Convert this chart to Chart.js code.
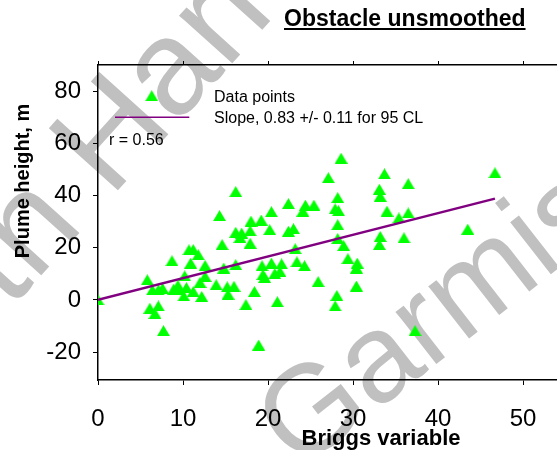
<!DOCTYPE html>
<html><head><meta charset="utf-8">
<script src="https://cdn.jsdelivr.net/npm/chart.js@4/dist/chart.umd.min.js"></script>
<style>
html,body{margin:0;padding:0;overflow:hidden;background:#fff;width:557px;height:450px}
#wrap{position:absolute;left:0;top:0;width:620px;height:450px}
</style>
</head><body><div id="wrap"><canvas id="c" width="620" height="450"></canvas></div>
<script>
// ---- data ----
const briggsX = [0,5.8,6.4,7.1,7.6,6.1,7.1,6.7,7.7,8.7,8.9,9.4,9.6,10.1,10.2,10.4,10.7,11.2,11.8,10.9,
  11.2,12.0,12.6,12.6,12.2,13.9,14.3,14.6,14.8,15.2,15.3,16.0,16.2,22.4,24.4,25.4,24.1,20.4,28.2,27.9,
  28.3,18.0,19.2,28.2,16.2,16.9,17.9,20.2,22.4,23.0,16.7,17.9,23.2,28.2,28.9,16.2,19.3,20.4,21.6,23.4,
  24.3,19.4,19.6,20.8,21.4,29.4,30.5,30.4,25.9,18.4,17.4,21.1,28.1,27.9,30.4,18.9,28.6,27.1,33.7,46.7,
  33.1,36.5,33.2,34.0,35.4,36.5,43.5,33.2,33.1,36.0,37.3];
const plumeY = [0,7.7,3.8,3.8,4.4,-3.2,-2.3,-5.2,-11.8,15.0,4.1,5.6,3.8,1.5,9.2,4.7,19.2,19.3,17.3,14.1,
  3.2,6.7,13.2,9.0,1.3,5.8,32.3,21.2,12.2,5.0,2.2,5.2,41.5,36.9,36.3,36.3,34.0,33.8,39.2,34.9,
  34.2,30.2,30.6,28.8,25.9,25.6,26.5,26.9,26.3,27.3,23.9,21.7,19.6,23.5,20.8,13.5,13.1,14.1,13.8,14.6,
  13.1,9.7,8.6,10.1,10.9,15.8,14.1,12.2,7.0,3.2,-1.8,-0.7,1.7,-2.3,5.3,-17.3,54.3,46.8,48.3,48.7,
  42.4,44.5,39.7,34.0,31.4,33.3,27.1,24.3,21.2,23.8,-11.8];
const fitX = [0, 46.7];
const fitY = [0, 38.8];
const xTicks = [0,10,20,30,40,50,60];
const yTicks = [-20,0,20,40,60,80];
const titleText = 'Obstacle unsmoothed';
const xTitle = 'Briggs variable';
const yTitle = 'Plume height, m';
const legendPoints = 'Data points';
const legendLine = 'Slope, 0.83 +/- 0.11 for 95 CL';
const rText = 'r = 0.56';

const FONT = '"Liberation Sans", Arial, sans-serif';
const GREEN = '#00ff00';
const PURPLE = '#800080';

// triangle marker (centred on its vertical midpoint)
const tri = document.createElement('canvas');
tri.width = 13; tri.height = 11;
(function(){const t = tri.getContext('2d'); t.fillStyle = GREEN; t.beginPath();
  t.moveTo(6.5,0); t.lineTo(13,11); t.lineTo(0,11); t.closePath(); t.fill();})();

const pts = briggsX.map((x,i)=>({x:x, y:plumeY[i]}));
const fit = fitX.map((x,i)=>({x:x, y:fitY[i]}));

const watermark = {
  id:'watermark',
  beforeDraw(chart){
    const ctx = chart.ctx;
    ctx.save();
    ctx.fillStyle = '#fff'; ctx.fillRect(0,0,chart.width,chart.height);
    ctx.fillStyle = 'rgb(192,192,192)';
    ctx.textBaseline = 'alphabetic'; ctx.textAlign = 'left';
    ctx.font = '135px ' + FONT;
    ctx.save(); ctx.translate(10,310); ctx.rotate(-48*Math.PI/180); ctx.fillText('th Harris',0,0); ctx.restore();
    ctx.font = '125px ' + FONT;
    ctx.save(); ctx.translate(298,472); ctx.rotate(-38*Math.PI/180); ctx.fillText('Garmisch',0,0); ctx.restore();
    ctx.restore();
  }
};

const texts = {
  id:'texts',
  afterDraw(chart){
    const ctx = chart.ctx;
    ctx.save();
    ctx.fillStyle = '#000'; ctx.strokeStyle = '#000';
    ctx.font = 'bold 23px ' + FONT; ctx.textAlign = 'left'; ctx.textBaseline = 'alphabetic';
    ctx.fillText(titleText, 284, 26);
    const w = ctx.measureText(titleText).width;
    ctx.lineWidth = 2; ctx.beginPath(); ctx.moveTo(284, 29); ctx.lineTo(284+w, 29); ctx.stroke();
    ctx.font = 'bold 22px ' + FONT; ctx.textAlign = 'center';
    ctx.fillText(xTitle, 381, 445);
    ctx.save(); ctx.translate(29, 181); ctx.rotate(-Math.PI/2);
    ctx.font = 'bold 20px ' + FONT; ctx.textAlign = 'center'; ctx.fillText(yTitle, 0, 0); ctx.restore();
    ctx.drawImage(tri, 151.7-6.5, 95.7-5.5);
    ctx.strokeStyle = PURPLE; ctx.lineWidth = 1.5;
    ctx.beginPath(); ctx.moveTo(115,117.3); ctx.lineTo(189.3,117.3); ctx.stroke();
    ctx.font = '16px ' + FONT; ctx.textAlign = 'left'; ctx.fillStyle = '#000';
    ctx.fillText(legendPoints, 214, 102.3);
    ctx.fillText(legendLine, 214, 123.3);
    ctx.fillText(rText, 109, 145);
    ctx.restore();
  }
};

const setX = s => { s.ticks = xTicks.map(v=>({value:v})); };
const setY = s => { s.ticks = yTicks.map(v=>({value:v})); };
const fitXBottom = s => { s.height = 70; s.paddingLeft = 0; s.paddingRight = 0; };
const fitXTop = s => { s.height = 65; s.paddingLeft = 0; s.paddingRight = 0; };
const fitYLeft = s => { s.width = 98; s.paddingTop = 0; s.paddingBottom = 0; };

new Chart(document.getElementById('c'), {
  data:{
    datasets:[
      {type:'line', data:fit, borderColor:PURPLE, borderWidth:2.5, pointRadius:0, fill:false, xAxisID:'x', yAxisID:'y'},
      {type:'scatter', data:pts, pointStyle:tri, pointRadius:6, backgroundColor:GREEN, xAxisID:'x', yAxisID:'y'}
    ]
  },
  options:{
    responsive:false, animation:false, devicePixelRatio:1,
    layout:{padding:{left:0,right:12,top:0,bottom:0}},
    plugins:{legend:{display:false}, tooltip:{enabled:false}, title:{display:false}},
    scales:{
      x:{type:'linear', position:'bottom', min:0, max:60,
        afterBuildTicks:setX, afterFit:fitXBottom,
        ticks:{font:{family:FONT,size:24}, color:'#000', padding:20, maxRotation:0, autoSkip:false},
        grid:{drawOnChartArea:false, drawTicks:true, tickLength:5, color:'#000', lineWidth:1},
        border:{display:true, color:'#000', width:1.5}},
      x2:{type:'linear', position:'top', min:0, max:60,
        afterBuildTicks:setX, afterFit:fitXTop,
        ticks:{display:false},
        grid:{drawOnChartArea:false, drawTicks:true, tickLength:4, color:'#000', lineWidth:1},
        border:{display:true, color:'#000', width:1.5}},
      y:{type:'linear', position:'left', min:-30.7, max:90,
        afterBuildTicks:setY, afterFit:fitYLeft,
        ticks:{font:{family:FONT,size:24}, color:'#000', padding:12},
        grid:{drawOnChartArea:false, drawTicks:true, tickLength:5, color:'#000', lineWidth:1},
        border:{display:true, color:'#000', width:1.5}}
    }
  },
  plugins:[watermark, texts]
});
</script>
</body></html>
